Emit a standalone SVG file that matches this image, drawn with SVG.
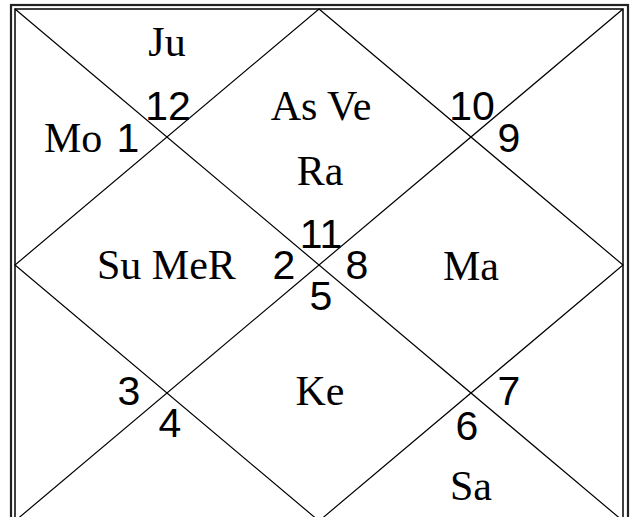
<svg xmlns="http://www.w3.org/2000/svg" width="632" height="517" viewBox="0 0 632 517">
<style>
.p{font-family:"Liberation Serif","Times New Roman",serif;font-size:42px;fill:#000}
.n{font-family:"Liberation Sans",Arial,sans-serif;font-size:41px;fill:#000;text-anchor:middle}
.m{text-anchor:middle}
.ln{stroke:#000;stroke-width:1.2;fill:none}
</style>
<rect width="632" height="517" fill="#fff"/>
<g id="frame">
<rect x="11" y="5" width="617" height="520" fill="none" stroke="#222" stroke-width="2.2"/>
<rect x="15" y="9" width="608" height="512" fill="none" stroke="#111" stroke-width="1.6"/>
</g>
<g id="connectors" class="ln">
<line x1="15" y1="9" x2="623" y2="521"/>
<line x1="623" y1="9" x2="15" y2="521"/>
<polygon points="319,9 623,265 319,521 15,265"/>
</g>
<g id="house-top"><text class="p m" x="321" y="120">As Ve</text><text class="p m" x="320" y="185">Ra</text></g>
<g id="house-topleft"><text class="p m" x="167" y="56">Ju</text></g>
<g id="house-left-upper"><text class="p" x="44" y="152">Mo</text></g>
<g id="house-left"><text class="p" x="97" y="279">Su MeR</text></g>
<g id="house-right"><text class="p m" x="471" y="280">Ma</text></g>
<g id="house-bottom"><text class="p m" x="320" y="405">Ke</text></g>
<g id="house-bottomright"><text class="p m" x="471" y="500">Sa</text></g>
<g id="numbers">
<text class="n" x="168" y="120">12</text>
<text class="n" x="128" y="152">1</text>
<text class="n" x="472" y="120">10</text>
<text class="n" x="509" y="152">9</text>
<text class="n" x="321" y="248">11</text>
<text class="n" x="284" y="279">2</text>
<text class="n" x="357" y="279">8</text>
<text class="n" x="321" y="310">5</text>
<text class="n" x="129" y="405">3</text>
<text class="n" x="170" y="437">4</text>
<text class="n" x="509" y="405">7</text>
<text class="n" x="467" y="440">6</text>
</g>
</svg>
